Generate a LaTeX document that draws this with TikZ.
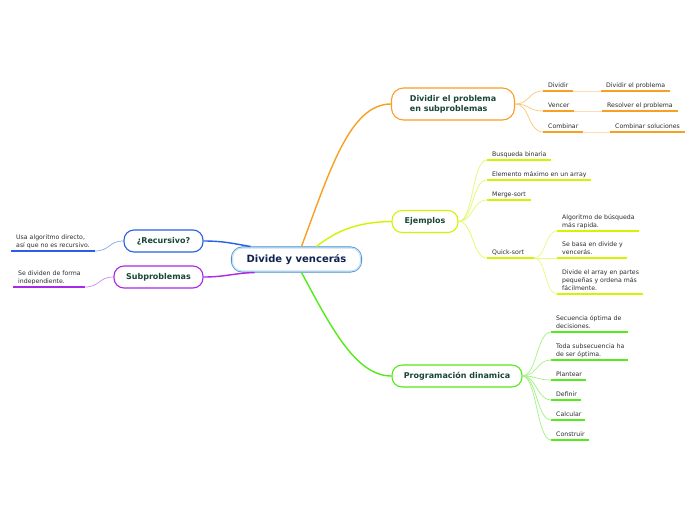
\documentclass[tikz,border=0pt]{standalone}
\usepackage{fontspec}
\setmainfont{DejaVu Sans}
\definecolor{corange}{RGB}{247,160,35}
\definecolor{cyel}{RGB}{212,243,0}
\definecolor{cgreen}{RGB}{85,235,25}
\definecolor{cblue}{RGB}{40,95,230}
\definecolor{cpurple}{RGB}{170,40,230}
\definecolor{ccentral}{RGB}{60,140,210}
\definecolor{tdark}{RGB}{25,70,55}
\definecolor{tnavy}{RGB}{15,35,80}
\definecolor{tgray}{RGB}{45,45,45}
\newcommand{\lstrut}{\rule[-1.6pt]{0pt}{1.6pt}}
\begin{document}
\begin{tikzpicture}[x=1pt,y=-1pt,
  mainbox/.style={draw, rounded corners=10pt, line width=1.1pt, fill=white,
    font=\fontsize{8}{10}\selectfont\bfseries, text=tdark, align=left, inner sep=0pt},
  leaf/.style={anchor=south west, inner xsep=5pt, inner ysep=2.2pt,
    font=\fontsize{6.2}{8}\selectfont, text=tgray, align=left, execute at end node=\lstrut},
  uline/.style={line width=1.6pt},
  link/.style={line width=0.7pt},
  branch/.style={line width=1.4pt},
]
\useasboundingbox[fill=white] (0,0) rectangle (696,520);

% central
\node[draw=ccentral, fill=white, line width=1.1pt, rounded corners=11pt,
  minimum width=130pt, minimum height=25pt, inner sep=0pt,
  font=\fontsize{10}{12}\selectfont\bfseries, text=tnavy] (c) at (296.5,259.5) {Divide y vencerás};
\draw[ccentral!28, line width=1.3pt, rounded corners=9.5pt]
  ([shift={(1.5pt,-1.5pt)}]c.north west) rectangle ([shift={(-1.5pt,1.5pt)}]c.south east);

% main nodes
\node[mainbox, draw=corange, minimum width=123pt, minimum height=32pt, rounded corners=12pt] (dv) at (453,104) {Dividir el problema\\en subproblemas};
\node[mainbox, draw=cyel, minimum width=66pt, minimum height=22pt] (ej) at (425,221.5) {Ejemplos};
\node[mainbox, draw=cgreen, minimum width=130pt, minimum height=22pt] (pd) at (457,376) {Programación dinamica};
\node[mainbox, draw=cblue, minimum width=79pt, minimum height=22pt] (rc) at (163.5,241) {¿Recursivo?};
\node[mainbox, draw=cpurple, minimum width=89pt, minimum height=22pt] (sp) at (158.5,277) {Subproblemas};

% main branches
\draw[branch, corange] ([xshift=5pt]c.north) .. controls (330,170) and (350,104) .. (dv.west);
\draw[branch, cyel] ([xshift=20pt]c.north) .. controls (335,232) and (355,222) .. (ej.west);
\draw[branch, cgreen] ([xshift=5pt]c.south) .. controls (330,325) and (355,376) .. (pd.west);
\draw[branch, cblue] ([xshift=-46pt]c.north) .. controls (235,244) and (225,241) .. (rc.east);
\draw[branch, cpurple] ([xshift=-42pt]c.south) .. controls (235,273) and (225,277) .. (sp.east);

% Dividir leaves
\node[leaf] (a1) at (543,91) {Dividir};
\node[leaf] (a1b) at (601,91) {Dividir el problema};
\node[leaf] (a2) at (543,111) {Vencer};
\node[leaf] (a2b) at (602,111) {Resolver el problema};
\node[leaf] (a3) at (543,132) {Combinar};
\node[leaf] (a3b) at (610,132) {Combinar soluciones};
\foreach \n/\l in {a1/30,a1b/69,a2/31,a2b/76,a3/40,a3b/75}
  \draw[uline, corange] (\n.south west) -- ++(\l,0);
\foreach \n/\m/\l in {a1/a1b/30,a2/a2b/31,a3/a3b/40}
  \draw[link, corange!35] ([xshift=\l]\n.south west) -- (\m.south west);
\foreach \n in {a1,a2,a3}
  \draw[link, corange!60] (dv.east) .. controls +(15,0) and +(-15,0) .. (\n.south west);

% Ejemplos leaves
\node[leaf] (e1) at (487,160) {Busqueda binaria};
\node[leaf] (e2) at (487,180) {Elemento máximo en un array};
\node[leaf] (e3) at (487,200) {Merge-sort};
\node[leaf] (e4) at (487,258) {Quick-sort};
\node[leaf] (q1) at (557,231) {Algoritmo de búsqueda\\más rapida.};
\node[leaf] (q2) at (557,258) {Se basa en divide y\\vencerás.};
\node[leaf] (q3) at (557,294) {Divide el array en partes\\pequeñas y ordena más\\fácilmente.};
\foreach \n/\l in {e1/64,e2/104,e3/44,e4/47,q1/82,q2/70,q3/86}
  \draw[uline, cyel] (\n.south west) -- ++(\l,0);
\foreach \n in {e1,e2,e3,e4}
  \draw[link, cyel!60] (ej.east) .. controls +(15,0) and +(-15,0) .. (\n.south west);
\coordinate (qe) at ([xshift=47pt]e4.south west);
\foreach \n in {q1,q2,q3}
  \draw[link, cyel!50] (qe) .. controls +(12,0) and +(-12,0) .. (\n.south west);

% Programacion leaves
\node[leaf] (p1) at (551,332) {Secuencia óptima de\\decisiones.};
\node[leaf] (p2) at (551,360) {Toda subsecuencia ha\\de ser óptima.};
\node[leaf] (p3) at (551,380) {Plantear};
\node[leaf] (p4) at (551,400) {Definir};
\node[leaf] (p5) at (551,420) {Calcular};
\node[leaf] (p6) at (551,440) {Construir};
\foreach \n/\l in {p1/77,p2/77,p3/35,p4/30,p5/34,p6/38}
  \draw[uline, cgreen] (\n.south west) -- ++(\l,0);
\foreach \n in {p1,p2,p3,p4,p5,p6}
  \draw[link, cgreen!55] (pd.east) .. controls +(14,0) and +(-14,0) .. (\n.south west);

% left leaves
\node[leaf] (l1) at (11,251) {Usa algoritmo directo,\\así que no es recursivo.};
\node[leaf] (l2) at (13,287) {Se dividen de forma\\independiente.};
\draw[uline, cblue] (l1.south west) -- ++(84,0) coordinate (l1e);
\draw[uline, cpurple] (l2.south west) -- ++(72,0) coordinate (l2e);
\draw[link, cblue!55] (l1e) .. controls +(15,0) and +(-15,0) .. (rc.west);
\draw[link, cpurple!55] (l2e) .. controls +(15,0) and +(-15,0) .. (sp.west);
\end{tikzpicture}
\end{document}
